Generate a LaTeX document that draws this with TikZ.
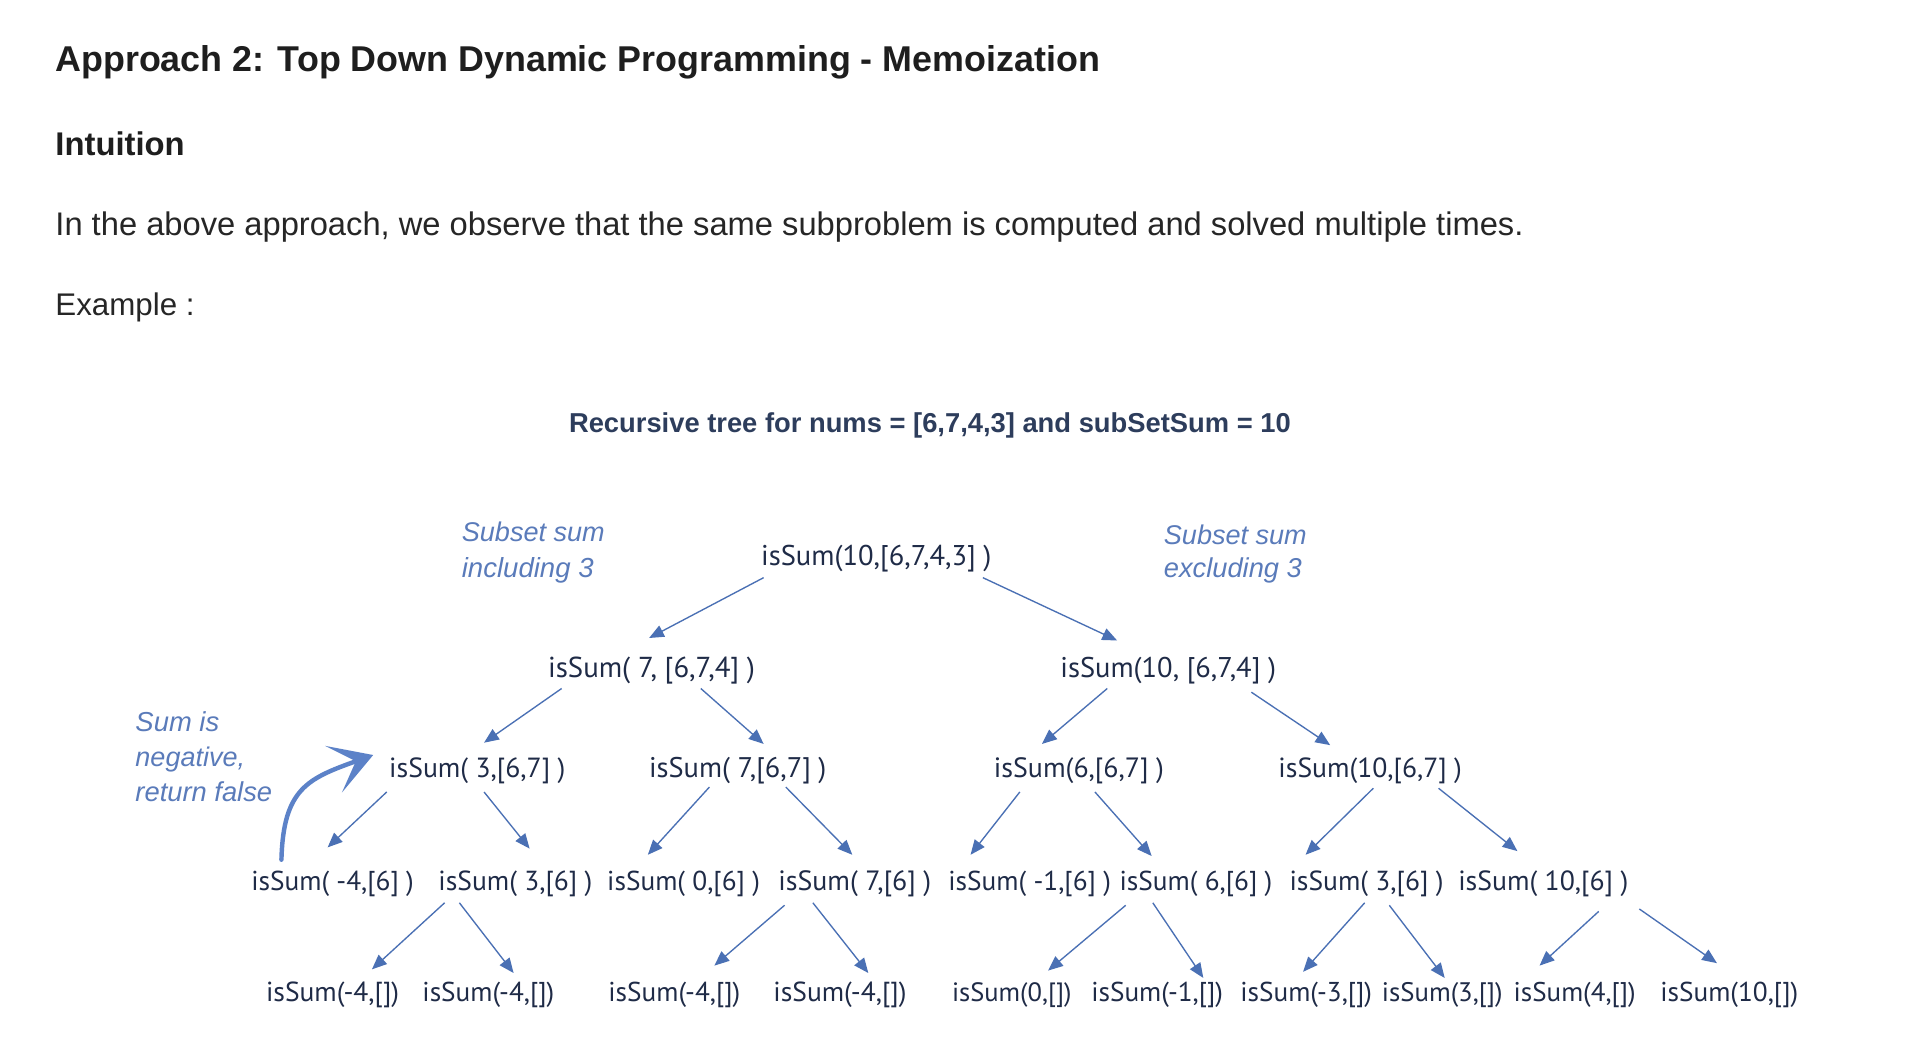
\documentclass[tikz,border=0pt]{standalone}
\usepackage{graphicx}
\usepackage{fontspec}
\setmainfont{Liberation Sans}
\newfontfamily\nodefont{PT Sans}
\usetikzlibrary{arrows.meta}
\definecolor{headc}{HTML}{1E1E1E}
\definecolor{bodyc}{HTML}{262626}
\definecolor{navyc}{HTML}{2D3D5C}
\definecolor{nodec}{HTML}{1F2B47}
\definecolor{notec}{HTML}{5A7BBA}
\definecolor{arrc}{HTML}{4A70B4}
\definecolor{curvc}{HTML}{5C82C8}
\newcommand\fit[2]{\resizebox{#1pt}{!}{#2}}
\begin{document}
\begin{tikzpicture}[x=1pt,y=-1pt,
  every node/.style={inner sep=0pt,outer sep=0pt},
  head/.style={anchor=base west,font=\bfseries\fontsize{27}{32}\selectfont,text=headc},
  body/.style={anchor=base west,font=\fontsize{24}{29}\selectfont,text=bodyc},
  tn/.style={anchor=base,font=\nodefont\fontsize{22}{26}\selectfont,text=nodec},
  note/.style={anchor=base west,font=\itshape\fontsize{21}{25}\selectfont,text=notec},
  arr/.style={draw=arrc,line width=1.1pt,-{Triangle[length=12pt,width=10pt]}},
  bigarr/.style={draw=curvc,line width=3.6pt,line cap=round,-{Stealth[length=34pt,width=40pt,inset=19pt]}}]
\fill[white] (0,0) rectangle (1567,852.5);
\useasboundingbox (0,0) rectangle (1567,852.5);
% text
\node[head] (title) at (45,58) {\fit{848}{Approach 2: Top Down Dynamic Programming - Memoization}};
\node[head] (intu) at (45,126) {\fit{105}{Intuition}};
\node[body] (sent) at (45,191) {\fit{1192}{In the above approach, we observe that the same subproblem is computed and solved multiple times.}};
\node[body] (exmp) at (45,256) {\fit{113}{Example :}};
\node[anchor=base,font=\bfseries\fontsize{21}{25}\selectfont,text=navyc] (rtitle) at (755,351) {\fit{586}{Recursive tree for nums = [6,7,4,3] and subSetSum = 10}};
% notes
\node[note] (inc1) at (375,440) {\fit{116}{Subset sum}};
\node[note] (inc2) at (375,469) {\fit{107}{including 3}};
\node[note] (exc1) at (945,442) {\fit{116}{Subset sum}};
\node[note] (exc2) at (945,469) {\fit{112}{excluding 3}};
\node[note] (neg1) at (110,594) {\fit{68}{Sum is}};
\node[note] (neg2) at (110,622) {\fit{89}{negative,}};
\node[note] (neg3) at (110,651) {\fit{111}{return false}};
% tree nodes
\node[tn] (root) at (711.5,459) {\fit{187}{isSum(10,[6,7,4,3] )}};
\node[tn] (l1a) at (529,550) {\fit{168}{isSum( 7, [6,7,4] )}};
\node[tn] (l1b) at (948.5,550) {\fit{175}{isSum(10, [6,7,4] )}};
\node[tn] (l2a) at (387.5,631) {\fit{143}{isSum( 3,[6,7] )}};
\node[tn] (l2b) at (599,631) {\fit{144}{isSum( 7,[6,7] )}};
\node[tn] (l2c) at (876,631) {\fit{138}{isSum(6,[6,7] )}};
\node[tn] (l2d) at (1112.5,631) {\fit{149}{isSum(10,[6,7] )}};
\node[tn] (l3a) at (270,723) {\fit{132}{isSum( -4,[6] )}};
\node[tn] (l3b) at (418.5,723) {\fit{125}{isSum( 3,[6] )}};
\node[tn] (l3c) at (555,723) {\fit{124}{isSum( 0,[6] )}};
\node[tn] (l3d) at (694,723) {\fit{124}{isSum( 7,[6] )}};
\node[tn] (l3e) at (836,723) {\fit{132}{isSum( -1,[6] )}};
\node[tn] (l3f) at (971,723) {\fit{124}{isSum( 6,[6] )}};
\node[tn] (l3g) at (1109.5,723) {\fit{125}{isSum( 3,[6] )}};
\node[tn] (l3h) at (1253,723) {\fit{138}{isSum( 10,[6] )}};
\node[tn] (l4a) at (270,813) {\fit{108}{isSum(-4,[])}};
\node[tn] (l4b) at (396.5,813) {\fit{107}{isSum(-4,[])}};
\node[tn] (l4c) at (547.5,813) {\fit{107}{isSum(-4,[])}};
\node[tn] (l4d) at (682,813) {\fit{108}{isSum(-4,[])}};
\node[tn] (l4e) at (821.5,813) {\fit{97}{isSum(0,[])}};
\node[tn] (l4f) at (939.5,813) {\fit{107}{isSum(-1,[])}};
\node[tn] (l4g) at (1060.5,813) {\fit{107}{isSum(-3,[])}};
\node[tn] (l4h) at (1171,813) {\fit{98}{isSum(3,[])}};
\node[tn] (l4i) at (1278.5,813) {\fit{99}{isSum(4,[])}};
\node[tn] (l4j) at (1404,813) {\fit{112}{isSum(10,[])}};
% connectors
\draw[arr] ([shift={(-91.5,10)}]root.base) -- ([shift={(-2,-32)}]l1a.base);
\draw[arr] ([shift={(86.5,10)}]root.base) -- ([shift={(-41.5,-30)}]l1b.base);
\draw[arr] ([shift={(-73,9)}]l1a.base) -- ([shift={(5.5,-28)}]l2a.base);
\draw[arr] ([shift={(40,9)}]l1a.base) -- ([shift={(21,-27)}]l2b.base);
\draw[arr] ([shift={(-49.5,9)}]l1b.base) -- ([shift={(-30,-27)}]l2c.base);
\draw[arr] ([shift={(67.5,12)}]l1b.base) -- ([shift={(-32.5,-26)}]l2d.base);
\draw[arr] ([shift={(-73.5,12)}]l2a.base) -- ([shift={(-4,-35)}]l3a.base);
\draw[arr] ([shift={(5.5,12)}]l2a.base) -- ([shift={(11.5,-34)}]l3b.base);
\draw[arr] ([shift={(-23,8)}]l2b.base) -- ([shift={(-29,-29)}]l3c.base);
\draw[arr] ([shift={(39,8)}]l2b.base) -- ([shift={(-2,-29)}]l3d.base);
\draw[arr] ([shift={(-48,12)}]l2c.base) -- ([shift={(-48,-29)}]l3e.base);
\draw[arr] ([shift={(13,12)}]l2c.base) -- ([shift={(-36,-28)}]l3f.base);
\draw[arr] ([shift={(2.5,9)}]l2d.base) -- ([shift={(-49.5,-29)}]l3g.base);
\draw[arr] ([shift={(55.5,9)}]l2d.base) -- ([shift={(-21,-32)}]l3h.base);
\draw[arr] ([shift={(-57.5,10)}]l3b.base) -- ([shift={(32,-26)}]l4a.base);
\draw[arr] ([shift={(-45.5,10)}]l3b.base) -- ([shift={(20.5,-23)}]l4b.base);
\draw[arr] ([shift={(-57,12)}]l3d.base) -- ([shift={(32.5,-29)}]l4c.base);
\draw[arr] ([shift={(-34,10)}]l3d.base) -- ([shift={(23,-23)}]l4d.base);
\draw[arr] ([shift={(-57,12)}]l3f.base) -- ([shift={(29.5,-25)}]l4e.base);
\draw[arr] ([shift={(-35,10)}]l3f.base) -- ([shift={(37.5,-19)}]l4f.base);
\draw[arr] ([shift={(-1.5,10)}]l3g.base) -- ([shift={(-2.5,-24)}]l4g.base);
\draw[arr] ([shift={(18.5,12)}]l3g.base) -- ([shift={(2,-19)}]l4h.base);
\draw[arr] ([shift={(45,17)}]l3h.base) -- ([shift={(-28.5,-29)}]l4i.base);
\draw[arr] ([shift={(78,15)}]l3h.base) -- ([shift={(-10,-31)}]l4j.base);
% curved note arrow
\draw[bigarr] ([shift={(-41.5,-25)}]l3a.base) .. controls ([shift={(-40,-83)}]l3a.base) and ([shift={(-137.5,1)}]l2a.base) .. ([shift={(-84.5,-18)}]l2a.base);
\end{tikzpicture}
\end{document}
